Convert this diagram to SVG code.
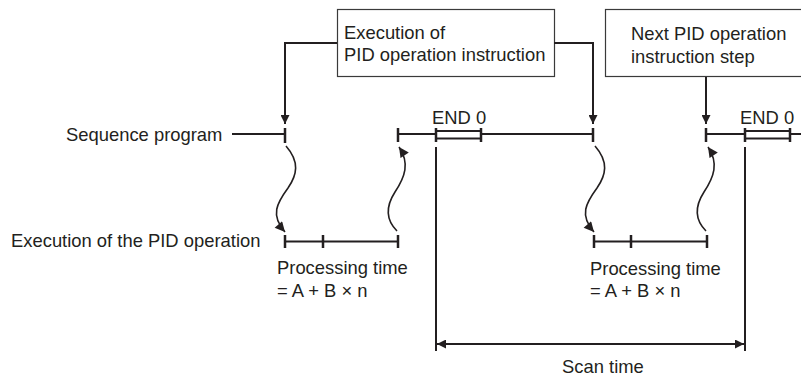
<svg xmlns="http://www.w3.org/2000/svg" width="801" height="378" viewBox="0 0 801 378">
<style>
text{font-family:"Liberation Sans",Arial,sans-serif;font-size:18.4px;fill:#231f20}
.box{fill:#fff;stroke:#3a3a3a;stroke-width:1.2}
.ln{stroke:#231f20;stroke-width:2;fill:none}
.tk{stroke:#231f20;stroke-width:2.5;fill:none}
.cn{stroke:#231f20;stroke-width:2;fill:none}
.wv{stroke:#231f20;stroke-width:1.6;fill:none}
</style>
<defs>
<marker id="ah" viewBox="0 0 10 10" refX="10" refY="5" markerWidth="10" markerHeight="9" markerUnits="userSpaceOnUse" orient="auto-start-reverse">
<path d="M0,0 L10,5 L0,10 z" fill="#231f20"/>
</marker>
<marker id="wh" viewBox="0 0 10 10" refX="10" refY="5" markerWidth="13" markerHeight="10" markerUnits="userSpaceOnUse" orient="auto">
<path d="M0,0 L10,5 L0,10 z" fill="#231f20"/>
</marker>
</defs>

<g id="box-exec">
<rect class="box" x="337.5" y="9.5" width="217" height="67"/>
<text x="344" y="39">Execution of</text>
<text x="344" y="61">PID operation instruction</text>
</g>

<g id="box-next">
<rect class="box" x="605.5" y="9.5" width="200" height="67"/>
<text x="631" y="40">Next PID operation</text>
<text x="631" y="63">instruction step</text>
</g>

<g id="sequence-program">
<text x="66" y="141">Sequence program</text>
<line class="ln" x1="232" y1="134" x2="285" y2="134"/>
<line class="tk" x1="285" y1="128" x2="285" y2="143"/>
<line class="tk" x1="398" y1="128" x2="398" y2="142"/>
<line class="ln" x1="398" y1="134" x2="436" y2="134"/>
<line class="ln" x1="481" y1="134" x2="593" y2="134"/>
<line class="tk" x1="593" y1="128" x2="593" y2="142"/>
<line class="tk" x1="706" y1="128" x2="706" y2="142"/>
<line class="ln" x1="706" y1="134" x2="745" y2="134"/>
<line class="ln" x1="790" y1="134" x2="801" y2="134"/>
</g>

<g id="end-1">
<text x="432" y="124">END 0</text>
<line class="tk" x1="436" y1="128" x2="436" y2="142"/>
<line class="ln" x1="436" y1="131" x2="481" y2="131"/>
<line class="ln" x1="436" y1="138.5" x2="481" y2="138.5"/>
<line class="tk" x1="481" y1="128" x2="481" y2="142"/>
</g>

<g id="end-2">
<text x="740" y="124">END 0</text>
<line class="tk" x1="745" y1="128" x2="745" y2="142"/>
<line class="ln" x1="745" y1="131" x2="790" y2="131"/>
<line class="ln" x1="745" y1="138.5" x2="790" y2="138.5"/>
<line class="tk" x1="790" y1="128" x2="790" y2="142"/>
</g>

<g id="pid-exec-1">
<text x="11" y="247">Execution of the PID operation</text>
<line class="ln" x1="285" y1="241.5" x2="398" y2="241.5"/>
<line class="tk" x1="285" y1="235" x2="285" y2="248"/>
<line class="tk" x1="323" y1="235" x2="323" y2="248"/>
<line class="tk" x1="398" y1="235" x2="398" y2="248"/>
<text x="277" y="274">Processing time</text>
<text x="277" y="297">= A + B × n</text>
</g>

<g id="pid-exec-2">
<line class="ln" x1="594" y1="241.5" x2="707" y2="241.5"/>
<line class="tk" x1="594" y1="235" x2="594" y2="248"/>
<line class="tk" x1="631" y1="235" x2="631" y2="248"/>
<line class="tk" x1="707" y1="235" x2="707" y2="248"/>
<text x="590" y="275">Processing time</text>
<text x="590" y="297">= A + B × n</text>
</g>

<g id="scan-time">
<line class="ln" x1="436" y1="147" x2="436" y2="351"/>
<line class="ln" x1="745" y1="147" x2="745" y2="351"/>
<text x="562" y="373">Scan time</text>
</g>

<g id="connectors">
<polyline class="cn" points="337,43 285,43 285,124" marker-end="url(#ah)"/>
<polyline class="cn" points="554,43 593,43 593,124" marker-end="url(#ah)"/>
<line class="cn" x1="706" y1="77" x2="706" y2="124" marker-end="url(#ah)"/>
<line class="cn" x1="437" y1="344" x2="744" y2="344" marker-start="url(#ah)" marker-end="url(#ah)"/>
<path class="wv" d="M286,146 C300,162 297,175 288,188 C277,203 270,215 285,232" marker-end="url(#wh)"/>
<path class="wv" d="M397,231 C385,219 386,206 395,192 C405,177 410,163 399,147" marker-end="url(#wh)"/>
<path class="wv" d="M595,146 C609,162 606,175 597,188 C586,203 579,215 594,232" marker-end="url(#wh)"/>
<path class="wv" d="M706,231 C694,219 695,206 704,192 C714,177 719,163 708,147" marker-end="url(#wh)"/>
</g>
</svg>
